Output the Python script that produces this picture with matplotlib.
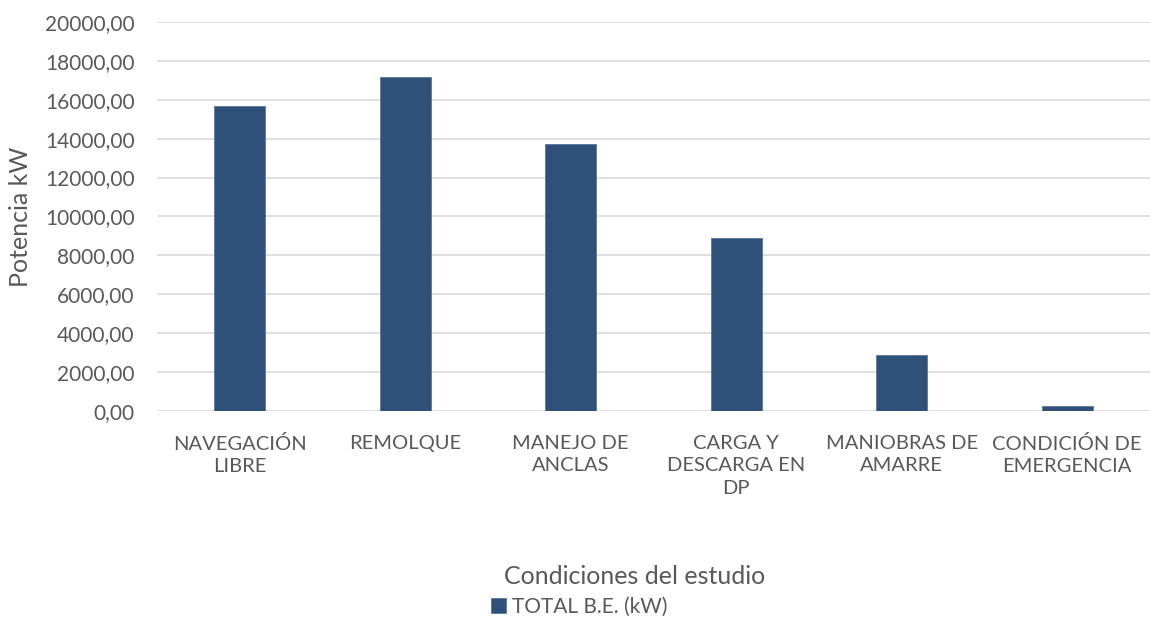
import matplotlib
matplotlib.use("Agg")
import matplotlib.pyplot as plt
from matplotlib.ticker import FuncFormatter, MultipleLocator

# data
categorias = ["NAVEGACIÓN\nLIBRE", "REMOLQUE", "MANEJO DE\nANCLAS",
              "CARGA Y\nDESCARGA EN\nDP", "MANIOBRAS DE\nAMARRE",
              "CONDICIÓN DE\nEMERGENCIA"]
potencia_kw = [15680, 17175, 13710, 8910, 2900, 240]
serie = "TOTAL B.E. (kW)"

plt.rcParams['font.family'] = ['Lato', 'DejaVu Sans']
gris = '#595959'

fig = plt.figure(figsize=(11.5, 6.21), dpi=100)
ax = fig.add_axes([0.1365, 0.3382, 0.8635, 0.6264])

x = range(len(categorias))
ax.bar(x, potencia_kw, width=0.31, color='#2f5078', edgecolor='#5a78a0',
       linewidth=0.6, label=serie, zorder=3)

ax.set_xlim(-0.5, len(categorias) - 0.5)
ax.set_ylim(0, 20000)
ax.yaxis.set_major_locator(MultipleLocator(2000))
ax.yaxis.set_major_formatter(FuncFormatter(lambda v, p: f"{v:.2f}".replace('.', ',')))
ax.grid(axis='y', color='#d9d9d9', linewidth=1.2, zorder=0)
ax.set_axisbelow(True)
for s in ax.spines.values():
    s.set_visible(False)
ax.tick_params(axis='both', length=0, colors=gris)
ax.tick_params(axis='x', pad=17, labelsize=14.5)
ax.tick_params(axis='y', pad=16, labelsize=15)
ax.set_xticks(list(x))
ax.set_xticklabels(categorias, linespacing=1.4)

ax.set_ylabel("Potencia kW", color=gris, fontsize=18)
ax.yaxis.set_label_coords(-0.126, 0.5)
fig.text(0.552, 0.071, "Condiciones del estudio", color=gris, fontsize=18,
         ha='center', va='center')
fig.legend(loc='center', bbox_to_anchor=(0.504, 0.0225), frameon=False,
           handlelength=0.7, handleheight=0.7, handletextpad=0.3,
           fontsize=15, labelcolor=gris)

fig.savefig("out.png", dpi=100)
